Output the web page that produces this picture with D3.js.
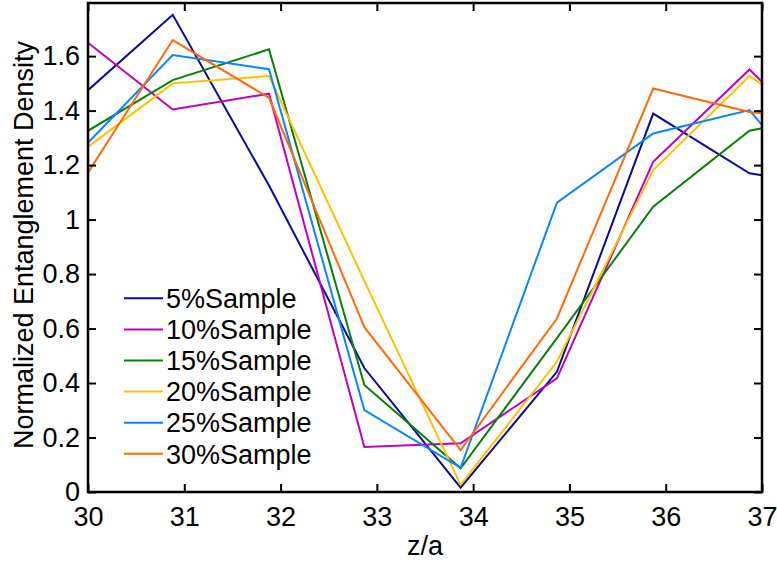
<!DOCTYPE html>
<html>
<head>
<meta charset="utf-8">
<script src="https://cdn.jsdelivr.net/npm/d3@7"></script>
<style>
  body { margin: 0; background: #fff; }
  svg text { font-family: "Liberation Sans", Arial, sans-serif; fill: #000; }
</style>
</head>
<body>
<script>
// x positions of samples (edges clipped at 30 and 37)
const zVals = [30, 30.88, 31.88, 32.87, 33.87, 34.87, 35.87, 36.87, 37]

const s5  = [1.475, 1.752, 1.125, 0.455, 0.016, 0.441, 1.389, 1.170, 1.163]
const s10 = [1.649, 1.404, 1.462, 0.165, 0.179, 0.417, 1.212, 1.551, 1.506]
const s15 = [1.326, 1.512, 1.625, 0.393, 0.087, 0.565, 1.047, 1.326, 1.335]
const s20 = [1.267, 1.500, 1.527, 0.775, 0.026, 0.478, 1.182, 1.527, 1.496]
const s25 = [1.282, 1.604, 1.552, 0.301, 0.089, 1.062, 1.316, 1.402, 1.347]
const s30 = [1.172, 1.659, 1.447, 0.605, 0.154, 0.637, 1.481, 1.395, 1.390]

const seriesNames = ['5%Sample', '10%Sample', '15%Sample', '20%Sample', '25%Sample', '30%Sample']
const seriesColors = ['#0a0a96', '#bf00bf', '#087f08', '#ffc000', '#0a84ff', '#ff6a0a']
const allSeries = [s5, s10, s15, s20, s25, s30]

const xTicks = [30, 31, 32, 33, 34, 35, 36, 37]
const yTicks = [0, 0.2, 0.4, 0.6, 0.8, 1, 1.2, 1.4, 1.6]

const W = 777, H = 564
const pL = 88, pR = 762, pT = 3, pB = 492
const fs = 27

const svg = d3.select('body').append('svg').attr('width', W).attr('height', H)

const x = d3.scaleLinear().domain([30, 37]).range([pL, pR])
const y = d3.scaleLinear().domain([0, 1.795]).range([pB, pT])

svg.append('defs').append('clipPath').attr('id', 'clip')
  .append('rect').attr('x', pL).attr('y', pT).attr('width', pR - pL).attr('height', pB - pT)

const line = d3.line().x((d, i) => x(zVals[i])).y(d => y(d))

const g = svg.append('g').attr('clip-path', 'url(#clip)')
allSeries.forEach((s, i) => {
  g.append('path')
    .attr('d', line(s))
    .attr('fill', 'none')
    .attr('stroke', seriesColors[i])
    .attr('stroke-width', 2)
    .attr('stroke-linejoin', 'miter')
})

// axes with inward ticks
const fmt = d => d === 0 ? '0' : d3.format('~g')(d)
const axisStyle = sel => {
  sel.select('.domain').remove()
  sel.selectAll('.tick line').attr('stroke', '#000').attr('stroke-width', 2)
  sel.selectAll('text').attr('font-size', fs).attr('fill', '#000')
    .style('font-family', '"Liberation Sans", Arial, sans-serif')
}

svg.append('g').attr('transform', `translate(0,${pB})`)
  .call(d3.axisBottom(x).tickValues(xTicks).tickSizeInner(-8).tickSizeOuter(0).tickPadding(14.5).tickFormat(fmt))
  .call(axisStyle)

svg.append('g').attr('transform', `translate(0,${pT})`)
  .call(d3.axisTop(x).tickValues(xTicks).tickSizeInner(-8).tickSizeOuter(0).tickFormat(''))
  .call(axisStyle)

svg.append('g').attr('transform', `translate(${pL},0)`)
  .call(d3.axisLeft(y).tickValues(yTicks).tickSizeInner(-8).tickSizeOuter(0).tickPadding(8).tickFormat(fmt))
  .call(axisStyle)

svg.append('g').attr('transform', `translate(${pR},0)`)
  .call(d3.axisRight(y).tickValues(yTicks).tickSizeInner(-8).tickSizeOuter(0).tickFormat(''))
  .call(axisStyle)

svg.append('rect')
  .attr('x', pL).attr('y', pT).attr('width', pR - pL).attr('height', pB - pT)
  .attr('fill', 'none').attr('stroke', '#000').attr('stroke-width', 2.5)

// axis titles
svg.append('text')
  .attr('x', (pL + pR) / 2).attr('y', 555)
  .attr('text-anchor', 'middle').attr('font-size', fs)
  .text('z/a')

svg.append('text')
  .attr('transform', `translate(33,245) rotate(-90)`)
  .attr('text-anchor', 'middle').attr('font-size', fs)
  .text('Normalized Entanglement Density')

// legend
const legend = svg.append('g')
seriesNames.forEach((name, i) => {
  const ly = 298.3 + i * 31.1
  legend.append('line')
    .attr('x1', 124).attr('x2', 163).attr('y1', ly).attr('y2', ly)
    .attr('stroke', seriesColors[i]).attr('stroke-width', 2)
  legend.append('text')
    .attr('x', 166).attr('y', ly + 9.7)
    .attr('font-size', fs)
    .text(name)
})
</script>
</body>
</html>
